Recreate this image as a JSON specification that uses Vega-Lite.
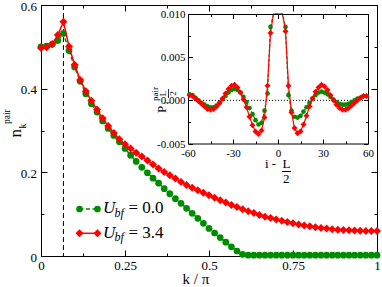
{
"$schema": "https://vega.github.io/schema/vega-lite/v6.json",
"width": 336, "height": 251,
"autosize": {"type": "none"},
"padding": {"left": 41, "top": 5, "right": 5, "bottom": 31},
"background": "white",
"config": {"view": {"stroke": null}, "axis": {"grid": false, "domainColor": "black", "tickColor": "black", "labelColor": "black", "labelFont": "Liberation Serif", "labelFlush": false, "labelOverlap": false, "domainWidth": 1, "tickWidth": 1}},
"datasets": {
"main": [
{"k":0,"g":0.500,"r":0.497},{"k":0.0167,"g":0.502,"r":0.499},{"k":0.0333,"g":0.506,"r":0.507},{"k":0.05,"g":0.515,"r":0.528},{"k":0.0667,"g":0.532,"r":0.560},{"k":0.0833,"g":0.491,"r":0.501},{"k":0.1,"g":0.452,"r":0.457},{"k":0.1167,"g":0.418,"r":0.421},{"k":0.1333,"g":0.388,"r":0.394},{"k":0.15,"g":0.364,"r":0.371},{"k":0.1667,"g":0.344,"r":0.350},{"k":0.1833,"g":0.323,"r":0.329},{"k":0.2,"g":0.305,"r":0.311},{"k":0.2167,"g":0.288,"r":0.294},{"k":0.2333,"g":0.273,"r":0.279},{"k":0.25,"g":0.257,"r":0.267},{"k":0.2667,"g":0.241,"r":0.257},{"k":0.2833,"g":0.226,"r":0.247},{"k":0.3,"g":0.212,"r":0.238},{"k":0.3167,"g":0.199,"r":0.228},{"k":0.3333,"g":0.186,"r":0.219},{"k":0.35,"g":0.174,"r":0.209},{"k":0.3667,"g":0.161,"r":0.201},{"k":0.3833,"g":0.149,"r":0.193},{"k":0.4,"g":0.137,"r":0.185},{"k":0.4167,"g":0.126,"r":0.177},{"k":0.4333,"g":0.114,"r":0.170},{"k":0.45,"g":0.102,"r":0.163},{"k":0.4667,"g":0.090,"r":0.157},{"k":0.4833,"g":0.078,"r":0.151},{"k":0.5,"g":0.066,"r":0.145},{"k":0.5167,"g":0.055,"r":0.139},{"k":0.5333,"g":0.044,"r":0.133},{"k":0.55,"g":0.033,"r":0.128},{"k":0.5667,"g":0.022,"r":0.122},{"k":0.5833,"g":0.012,"r":0.117},{"k":0.6,"g":0.004,"r":0.112},{"k":0.6167,"g":0.002,"r":0.107},{"k":0.6333,"g":0.002,"r":0.103},{"k":0.65,"g":0.002,"r":0.098},{"k":0.6667,"g":0.002,"r":0.094},{"k":0.6833,"g":0.002,"r":0.091},{"k":0.7,"g":0.002,"r":0.087},{"k":0.7167,"g":0.002,"r":0.084},{"k":0.7333,"g":0.002,"r":0.081},{"k":0.75,"g":0.002,"r":0.078},{"k":0.7667,"g":0.002,"r":0.0755},{"k":0.7833,"g":0.002,"r":0.073},{"k":0.8,"g":0.002,"r":0.071},{"k":0.8167,"g":0.002,"r":0.069},{"k":0.8333,"g":0.002,"r":0.067},{"k":0.85,"g":0.002,"r":0.0655},{"k":0.8667,"g":0.002,"r":0.064},{"k":0.8833,"g":0.002,"r":0.063},{"k":0.9,"g":0.002,"r":0.062},{"k":0.9167,"g":0.002,"r":0.0615},{"k":0.9333,"g":0.002,"r":0.061},{"k":0.95,"g":0.002,"r":0.0605},{"k":0.9667,"g":0.002,"r":0.060},{"k":0.9833,"g":0.002,"r":0.060},{"k":1,"g":0.002,"r":0.060}
],
"inset": [
{"i":-59,"g":0.0007,"r":0.0006},{"i":-57,"g":0.0006,"r":0.0005},{"i":-55,"g":0.0003,"r":0.0002},{"i":-53,"g":0.0,"r":-0.0001},{"i":-51,"g":-0.0003,"r":-0.0004},{"i":-49,"g":-0.0005,"r":-0.0007},{"i":-47,"g":-0.0007,"r":-0.0010},{"i":-45,"g":-0.0008,"r":-0.0011},{"i":-43,"g":-0.0008,"r":-0.0010},{"i":-41,"g":-0.0006,"r":-0.0007},{"i":-39,"g":-0.0003,"r":-0.0003},{"i":-37,"g":0.0001,"r":0.0002},{"i":-35,"g":0.0005,"r":0.0008},{"i":-33,"g":0.0009,"r":0.0013},{"i":-31,"g":0.0012,"r":0.0017},{"i":-29,"g":0.0013,"r":0.0018},{"i":-27,"g":0.0012,"r":0.0015},{"i":-25,"g":0.0009,"r":0.0009},{"i":-23,"g":0.0004,"r":0.0001},{"i":-21,"g":-0.0002,"r":-0.0008},{"i":-19,"g":-0.0009,"r":-0.0019},{"i":-17,"g":-0.0016,"r":-0.0029},{"i":-15,"g":-0.0023,"r":-0.0036},{"i":-13,"g":-0.0028,"r":-0.0039},{"i":-11,"g":-0.0026,"r":-0.0035},{"i":-9,"g":-0.0012,"r":-0.0020},{"i":-7,"g":0.0008,"r":0.0017},{"i":-5,"g":0.0085,"r":0.0078},{"i":-3,"g":0.03,"r":0.03},{"i":-1,"g":0.06,"r":0.06},{"i":1,"g":0.06,"r":0.06},{"i":3,"g":0.03,"r":0.03},{"i":5,"g":0.0085,"r":0.0080},{"i":7,"g":0.0006,"r":0.0017},{"i":9,"g":-0.0012,"r":-0.0014},{"i":11,"g":-0.0019,"r":-0.0032},{"i":13,"g":-0.0020,"r":-0.0038},{"i":15,"g":-0.0018,"r":-0.0036},{"i":17,"g":-0.0013,"r":-0.0028},{"i":19,"g":-0.0008,"r":-0.0018},{"i":21,"g":-0.0003,"r":-0.0007},{"i":23,"g":0.0002,"r":0.0002},{"i":25,"g":0.0006,"r":0.0010},{"i":27,"g":0.0009,"r":0.0015},{"i":29,"g":0.0010,"r":0.0018},{"i":31,"g":0.0009,"r":0.0016},{"i":33,"g":0.0007,"r":0.0012},{"i":35,"g":0.0004,"r":0.0006},{"i":37,"g":0.0001,"r":0.0},{"i":39,"g":-0.0002,"r":-0.0005},{"i":41,"g":-0.0004,"r":-0.0009},{"i":43,"g":-0.0005,"r":-0.0011},{"i":45,"g":-0.0005,"r":-0.0011},{"i":47,"g":-0.0004,"r":-0.0009},{"i":49,"g":-0.0002,"r":-0.0006},{"i":51,"g":0.0,"r":-0.0003},{"i":53,"g":0.0002,"r":0.0},{"i":55,"g":0.0003,"r":0.0003},{"i":57,"g":0.0005,"r":0.0005},{"i":59,"g":0.0005,"r":0.0005}
]
},
"layer": [
{
"layer": [
{"data":{"values":[{}]},"mark":{"type":"rule","color":"black","strokeWidth":1,"strokeDash":[5,3]},"encoding":{"x":{"datum":0.0667,"type":"quantitative","scale":{"domain":[0,1],"nice":false,"zero":false},"axis":null}}},
{"data":{"name":"main"},"mark":{"type":"line","color":"#008c00","strokeWidth":1.5,"strokeDash":[4,2.5],"point":{"filled":true,"shape":"circle","size":45,"opacity":1,"color":"#008c00"}},
 "encoding":{"x":{"field":"k","type":"quantitative","scale":{"domain":[0,1],"nice":false,"zero":false},"axis":{"orient":"bottom","values":[0,0.25,0.5,0.75,1],"labelExpr":"'' + datum.value","title":null,"domain":true,"tickSize":-6,"labelFontSize":13,"labelPadding":9.7}},
 "y":{"field":"g","type":"quantitative","scale":{"domain":[0,0.6],"nice":false,"zero":false},"axis":{"orient":"left","values":[0,0.2,0.4,0.6],"labelExpr":"'' + datum.value","title":null,"domain":true,"tickSize":-6,"labelFontSize":13,"labelPadding":10.5,"labelOffset":1}}}},
{"data":{"name":"main"},"mark":{"type":"line","color":"#ff0000","strokeWidth":1.5,"point":{"filled":true,"shape":"diamond","size":64,"opacity":1,"color":"#ff0000"}},
 "encoding":{"x":{"field":"k","type":"quantitative","scale":{"domain":[0,1],"nice":false,"zero":false},"axis":{"orient":"top","values":[0,0.25,0.5,0.75,1],"labels":false,"title":null,"domain":true,"tickSize":-6}},
 "y":{"field":"r","type":"quantitative","scale":{"domain":[0,0.6],"nice":false,"zero":false},"axis":{"orient":"right","values":[0,0.2,0.4,0.6],"labels":false,"title":null,"domain":true,"tickSize":-6}}}},
{"data":{"values":[{}]},"mark":{"type":"rule","color":"#008c00","strokeWidth":1.5,"strokeDash":[4,2.5]},
 "encoding":{"x":{"datum":0.1146,"type":"quantitative","scale":{"domain":[0,1],"nice":false,"zero":false},"axis":{"orient":"bottom","values":[0.125,0.375,0.625,0.875],"labels":false,"title":null,"domain":false,"tickSize":-3}},"x2":{"datum":0.168},
 "y":{"datum":0.1124,"type":"quantitative","scale":{"domain":[0,0.6],"nice":false,"zero":false},"axis":{"orient":"left","values":[0.1,0.3,0.5],"labels":false,"title":null,"domain":false,"tickSize":-3}}}},
{"data":{"values":[{}]},"mark":{"type":"rule","color":"#ff0000","strokeWidth":1.5},
 "encoding":{"x":{"datum":0.1146,"type":"quantitative","scale":{"domain":[0,1],"nice":false,"zero":false},"axis":{"orient":"top","values":[0.125,0.375,0.625,0.875],"labels":false,"title":null,"domain":false,"tickSize":-3}},"x2":{"datum":0.168},
 "y":{"datum":0.0543,"type":"quantitative","scale":{"domain":[0,0.6],"nice":false,"zero":false},"axis":{"orient":"right","values":[0.1,0.3,0.5],"labels":false,"title":null,"domain":false,"tickSize":-3}}}},
{"data":{"values":[{}]},"mark":{"type":"point","shape":"circle","filled":true,"size":45,"opacity":1,"color":"#008c00"},"encoding":{"x":{"datum":0.1146,"type":"quantitative","axis":null},"y":{"datum":0.1124,"type":"quantitative","axis":null}}},
{"data":{"values":[{}]},"mark":{"type":"point","shape":"circle","filled":true,"size":45,"opacity":1,"color":"#008c00"},"encoding":{"x":{"datum":0.168,"type":"quantitative","axis":null},"y":{"datum":0.1124,"type":"quantitative","axis":null}}},
{"data":{"values":[{}]},"mark":{"type":"point","shape":"diamond","filled":true,"size":64,"opacity":1,"color":"#ff0000"},"encoding":{"x":{"datum":0.1146,"type":"quantitative","axis":null},"y":{"datum":0.0543,"type":"quantitative","axis":null}}},
{"data":{"values":[{}]},"mark":{"type":"point","shape":"diamond","filled":true,"size":64,"opacity":1,"color":"#ff0000"},"encoding":{"x":{"datum":0.168,"type":"quantitative","axis":null},"y":{"datum":0.0543,"type":"quantitative","axis":null}}},
{"data":{"values":[{}]},"mark":{"type":"text","text":"U","font":"Liberation Serif","fontStyle":"italic","fontSize":17,"align":"left","baseline":"alphabetic","color":"black"},"encoding":{"x":{"datum":0.1845,"type":"quantitative","axis":null},"y":{"datum":0.1021,"type":"quantitative","axis":null}}},
{"data":{"values":[{}]},"mark":{"type":"text","text":"bf","font":"Liberation Serif","fontStyle":"italic","fontSize":12,"align":"left","baseline":"alphabetic","color":"black"},"encoding":{"x":{"datum":0.2188,"type":"quantitative","axis":null},"y":{"datum":0.0944,"type":"quantitative","axis":null}}},
{"data":{"values":[{}]},"mark":{"type":"text","text":"= 0.0","font":"Liberation Serif","fontSize":17,"align":"left","baseline":"alphabetic","color":"black"},"encoding":{"x":{"datum":0.2604,"type":"quantitative","axis":null},"y":{"datum":0.1021,"type":"quantitative","axis":null}}},
{"data":{"values":[{}]},"mark":{"type":"text","text":"U","font":"Liberation Serif","fontStyle":"italic","fontSize":17,"align":"left","baseline":"alphabetic","color":"black"},"encoding":{"x":{"datum":0.1845,"type":"quantitative","axis":null},"y":{"datum":0.0440,"type":"quantitative","axis":null}}},
{"data":{"values":[{}]},"mark":{"type":"text","text":"bf","font":"Liberation Serif","fontStyle":"italic","fontSize":12,"align":"left","baseline":"alphabetic","color":"black"},"encoding":{"x":{"datum":0.2188,"type":"quantitative","axis":null},"y":{"datum":0.0363,"type":"quantitative","axis":null}}},
{"data":{"values":[{}]},"mark":{"type":"text","text":"= 3.4","font":"Liberation Serif","fontSize":17,"align":"left","baseline":"alphabetic","color":"black"},"encoding":{"x":{"datum":0.2604,"type":"quantitative","axis":null},"y":{"datum":0.0440,"type":"quantitative","axis":null}}},
{"data":{"values":[{}]},"mark":{"type":"text","text":"n","font":"Liberation Serif","fontSize":17,"angle":270,"align":"left","baseline":"alphabetic","color":"black"},"encoding":{"x":{"datum":-0.0604,"type":"quantitative","axis":null},"y":{"datum":0.2833,"type":"quantitative","axis":null}}},
{"data":{"values":[{}]},"mark":{"type":"text","text":"k","font":"Liberation Serif","fontSize":10,"angle":270,"align":"left","baseline":"alphabetic","color":"black"},"encoding":{"x":{"datum":-0.0446,"type":"quantitative","axis":null},"y":{"datum":0.3048,"type":"quantitative","axis":null}}},
{"data":{"values":[{}]},"mark":{"type":"text","text":"pair","font":"Liberation Serif","fontSize":9.5,"angle":270,"align":"left","baseline":"alphabetic","color":"black"},"encoding":{"x":{"datum":-0.0908,"type":"quantitative","axis":null},"y":{"datum":0.3155,"type":"quantitative","axis":null}}},
{"data":{"values":[{}]},"mark":{"type":"text","text":"k / π","font":"Liberation Serif","fontSize":15,"align":"center","baseline":"alphabetic","color":"black"},"encoding":{"x":{"datum":0.4613,"type":"quantitative","axis":null},"y":{"datum":-0.0681,"type":"quantitative","axis":null}}},
{"data":{"values":[{}]},"mark":{"type":"text","text":"P","font":"Liberation Serif","fontSize":13,"angle":270,"align":"left","baseline":"alphabetic","color":"black"},"encoding":{"x":{"datum":0.3720,"type":"quantitative","axis":null},"y":{"datum":0.3418,"type":"quantitative","axis":null}}},
{"data":{"values":[{}]},"mark":{"type":"text","text":"pair","font":"Liberation Serif","fontSize":9,"angle":270,"align":"left","baseline":"alphabetic","color":"black"},"encoding":{"x":{"datum":0.3482,"type":"quantitative","axis":null},"y":{"datum":0.3705,"type":"quantitative","axis":null}}},
{"data":{"values":[{}]},"mark":{"type":"text","text":"i","font":"Liberation Serif","fontSize":9,"angle":270,"align":"left","baseline":"alphabetic","color":"black"},"encoding":{"x":{"datum":0.3839,"type":"quantitative","axis":null},"y":{"datum":0.3634,"type":"quantitative","axis":null}}},
{"data":{"values":[{}]},"mark":{"type":"text","text":"L","font":"Liberation Serif","fontSize":9,"angle":270,"align":"center","baseline":"alphabetic","color":"black"},"encoding":{"x":{"datum":0.3735,"type":"quantitative","axis":null},"y":{"datum":0.3884,"type":"quantitative","axis":null}}},
{"data":{"values":[{}]},"mark":{"type":"text","text":"2","font":"Liberation Serif","fontSize":9,"angle":270,"align":"center","baseline":"alphabetic","color":"black"},"encoding":{"x":{"datum":0.4003,"type":"quantitative","axis":null},"y":{"datum":0.3884,"type":"quantitative","axis":null}}},
{"data":{"values":[{}]},"mark":{"type":"rule","color":"black","strokeWidth":0.8},"encoding":{"x":{"datum":0.3795,"type":"quantitative","axis":null},"y":{"datum":0.3992,"type":"quantitative","axis":null},"y2":{"datum":0.3777}}},
{"data":{"values":[{}]},"mark":{"type":"text","text":"i -","font":"Liberation Serif","fontSize":13,"align":"left","baseline":"alphabetic","color":"black"},"encoding":{"x":{"datum":0.6667,"type":"quantitative","axis":null},"y":{"datum":0.2096,"type":"quantitative","axis":null}}},
{"data":{"values":[{}]},"mark":{"type":"text","text":"L","font":"Liberation Serif","fontSize":13,"align":"center","baseline":"alphabetic","color":"black"},"encoding":{"x":{"datum":0.7307,"type":"quantitative","axis":null},"y":{"datum":0.2096,"type":"quantitative","axis":null}}},
{"data":{"values":[{}]},"mark":{"type":"text","text":"2","font":"Liberation Serif","fontSize":13,"align":"center","baseline":"alphabetic","color":"black"},"encoding":{"x":{"datum":0.7301,"type":"quantitative","axis":null},"y":{"datum":0.1738,"type":"quantitative","axis":null}}},
{"data":{"values":[{}]},"mark":{"type":"rule","color":"black","strokeWidth":1},"encoding":{"x":{"datum":0.7173,"type":"quantitative","axis":null},"x2":{"datum":0.744},"y":{"datum":0.2020,"type":"quantitative","axis":null}}}
],
"resolve": {"axis": {"x": "independent", "y": "independent"}}
},
{
"layer": [
{"data":{"values":[{}]},"mark":{"type":"rule","color":"black","strokeWidth":1,"strokeDash":[1,2]},"encoding":{"x":{"datum":-60,"type":"quantitative","scale":{"domain":[-60,60],"range":[147,327],"nice":false,"zero":false},"axis":null},"x2":{"datum":60},"y":{"datum":0,"type":"quantitative","scale":{"domain":[-0.005,0.01],"range":[138.5,9],"nice":false,"zero":false,"clamp":true},"axis":null}}},
{"data":{"name":"inset"},"mark":{"type":"line","color":"#008c00","strokeWidth":1.2,"strokeDash":[3,2]},
 "encoding":{"x":{"field":"i","type":"quantitative","scale":{"domain":[-60,60],"range":[147,327],"nice":false,"zero":false},"axis":{"orient":"bottom","offset":-112.5,"values":[-60,-30,0,30,60],"labelExpr":"'' + datum.value","title":null,"domain":true,"tickSize":-4.5,"labelFontSize":11,"labelPadding":8.3}},
 "y":{"field":"g","type":"quantitative","scale":{"domain":[-0.005,0.01],"range":[138.5,9],"nice":false,"zero":false,"clamp":true},"axis":{"orient":"left","offset":-147,"values":[-0.005,0,0.005,0.01],"labelExpr":"datum.value < 0 ? '-' + format(-datum.value, '.3f') : format(datum.value, '.3f')","title":null,"domain":true,"tickSize":-4.5,"labelFontSize":11,"labelPadding":7.5,"labelOffset":0.5}}}},
{"data":{"name":"inset"},"transform":[{"filter":"abs(datum.i) > 4"}],"mark":{"type":"point","shape":"circle","filled":true,"size":22,"opacity":1,"color":"#008c00"},
 "encoding":{"x":{"field":"i","type":"quantitative","axis":{"orient":"top","offset":-9,"zindex":1,"values":[-60,-30,0,30,60],"labels":false,"title":null,"domain":true,"tickSize":-4.5}},
 "y":{"field":"g","type":"quantitative","axis":{"orient":"right","offset":-9,"values":[-0.005,0,0.005,0.01],"labels":false,"title":null,"domain":true,"tickSize":-4.5}}}},
{"data":{"name":"inset"},"mark":{"type":"line","color":"#ff0000","strokeWidth":1.2},
 "encoding":{"x":{"field":"i","type":"quantitative","axis":{"orient":"bottom","offset":-112.5,"values":[-45,-15,15,45],"labels":false,"title":null,"domain":false,"tickSize":-2.5}},
 "y":{"field":"r","type":"quantitative","axis":{"orient":"left","offset":-147,"values":[-0.0025,0.0025,0.0075],"labels":false,"title":null,"domain":false,"tickSize":-2.5}}}},
{"data":{"name":"inset"},"transform":[{"filter":"abs(datum.i) > 4"}],"mark":{"type":"point","shape":"diamond","filled":true,"size":36,"opacity":1,"color":"#ff0000"},
 "encoding":{"x":{"field":"i","type":"quantitative","axis":{"orient":"top","offset":-9,"zindex":1,"values":[-45,-15,15,45],"labels":false,"title":null,"domain":false,"tickSize":-2.5}},
 "y":{"field":"r","type":"quantitative","axis":{"orient":"right","offset":-9,"values":[-0.0025,0.0025,0.0075],"labels":false,"title":null,"domain":false,"tickSize":-2.5}}}}
],
"resolve": {"axis": {"x": "independent", "y": "independent"}}
}
],
"resolve": {"scale": {"x": "independent", "y": "independent"}}
}
